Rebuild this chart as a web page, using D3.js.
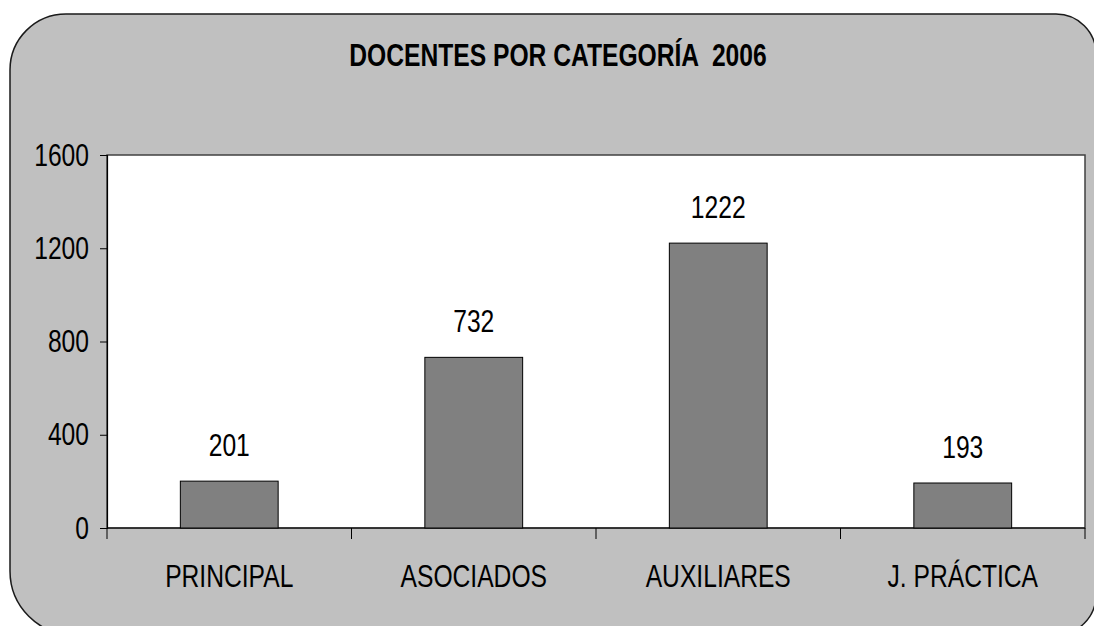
<!DOCTYPE html>
<html>
<head>
<meta charset="utf-8">
<script src="https://cdn.jsdelivr.net/npm/d3@7"></script>
<style>
  html, body { margin: 0; padding: 0; background: #ffffff; }
  svg { display: block; }
  text { font-family: "Liberation Sans", Arial, sans-serif; }
</style>
</head>
<body>
<svg id="chart" width="1094" height="626"></svg>
<script>
const title = "DOCENTES POR CATEGORÍA  2006";
const categories = ["PRINCIPAL", "ASOCIADOS", "AUXILIARES", "J. PRÁCTICA"];
const values = [201, 732, 1222, 193];
const yTicks = [0, 400, 800, 1200, 1600];

const NARROW = 0.77; // emulate a narrow (condensed) typeface
const FS = 32;
const svg = d3.select("#chart");

// outer rounded chart area (corners differ slightly, as in reference)
const L = 10, T = 14, R = 1096, B = 635;
const rTL = 56, rTR = 40, rBR = 40, rBL = 64;
const p = d3.path();
p.moveTo(L + rTL, T);
p.lineTo(R - rTR, T);
p.arcTo(R, T, R, T + rTR, rTR);
p.lineTo(R, B - rBR);
p.arcTo(R, B, R - rBR, B, rBR);
p.lineTo(L + rBL, B);
p.arcTo(L, B, L, B - rBL, rBL);
p.lineTo(L, T + rTL);
p.arcTo(L, T, L + rTL, T, rTL);
p.closePath();
svg.append("path").attr("d", p.toString())
  .attr("fill", "#c0c0c0").attr("stroke", "#1a1a1a").attr("stroke-width", 1.5);

const plot = { left: 107, top: 155, right: 1085, bottom: 528 };

const x = d3.scaleBand().domain(categories)
  .range([plot.left, plot.right]).paddingInner(0.6).paddingOuter(0.3);
const y = d3.scaleLinear().domain([0, 1600]).range([plot.bottom, plot.top]);

// plot area
svg.append("rect")
  .attr("x", plot.left).attr("y", plot.top)
  .attr("width", plot.right - plot.left).attr("height", plot.bottom - plot.top)
  .attr("fill", "#ffffff").attr("stroke", "#404040").attr("stroke-width", 1.5);

// title
svg.append("text")
  .attr("transform", `translate(558,66) scale(${NARROW},1)`)
  .attr("text-anchor", "middle").attr("font-size", FS).attr("font-weight", "bold")
  .style("white-space", "pre")
  .attr("fill", "#000").text(title);

// y axis
const tickSize = 7, tickPad = 11;
const yAxis = d3.axisLeft(y).tickValues(yTicks).tickSize(tickSize).tickPadding(tickPad).tickFormat(d3.format("d"));
const gy = svg.append("g").attr("transform", `translate(${plot.left},0)`).call(yAxis);
gy.select(".domain").attr("stroke", "#000").attr("stroke-width", 1.2);
gy.selectAll(".tick line").attr("stroke", "#000");
gy.selectAll(".tick text")
  .attr("font-size", FS).attr("fill", "#000")
  .attr("font-family", '"Liberation Sans", Arial, sans-serif')
  .attr("x", -(tickSize + tickPad) / NARROW)
  .attr("transform", `scale(${NARROW},1)`);

// x axis: ticks at category boundaries
const step = x.step();
const boundaries = categories.map(c => x(c) - step * x.paddingInner() / 2);
boundaries.push(boundaries[boundaries.length - 1] + step);
const gx = svg.append("g");
gx.append("line").attr("x1", plot.left).attr("x2", plot.right)
  .attr("y1", y(0)).attr("y2", y(0)).attr("stroke", "#000").attr("stroke-width", 1.2);
gx.selectAll("line.bt").data(boundaries).join("line").attr("class", "bt")
  .attr("x1", d => d).attr("x2", d => d)
  .attr("y1", y(0)).attr("y2", y(0) + 11).attr("stroke", "#000").attr("stroke-width", 1);
gx.selectAll("text").data(categories).join("text")
  .attr("transform", d => `translate(${x(d) + x.bandwidth() / 2},587) scale(${NARROW},1)`)
  .attr("text-anchor", "middle").attr("font-size", FS).attr("fill", "#000")
  .text(d => d);

// bars
svg.append("g").selectAll("rect").data(categories).join("rect")
  .attr("x", d => x(d)).attr("width", x.bandwidth())
  .attr("y", (d, i) => y(values[i])).attr("height", (d, i) => y(0) - y(values[i]))
  .attr("fill", "#808080").attr("stroke", "#000").attr("stroke-width", 1);

// value labels
svg.append("g").selectAll("text").data(categories).join("text")
  .attr("transform", (d, i) => `translate(${x(d) + x.bandwidth() / 2},${y(values[i]) - 25}) scale(${NARROW},1)`)
  .attr("text-anchor", "middle").attr("font-size", FS).attr("fill", "#000")
  .text((d, i) => values[i]);
</script>
</body>
</html>
